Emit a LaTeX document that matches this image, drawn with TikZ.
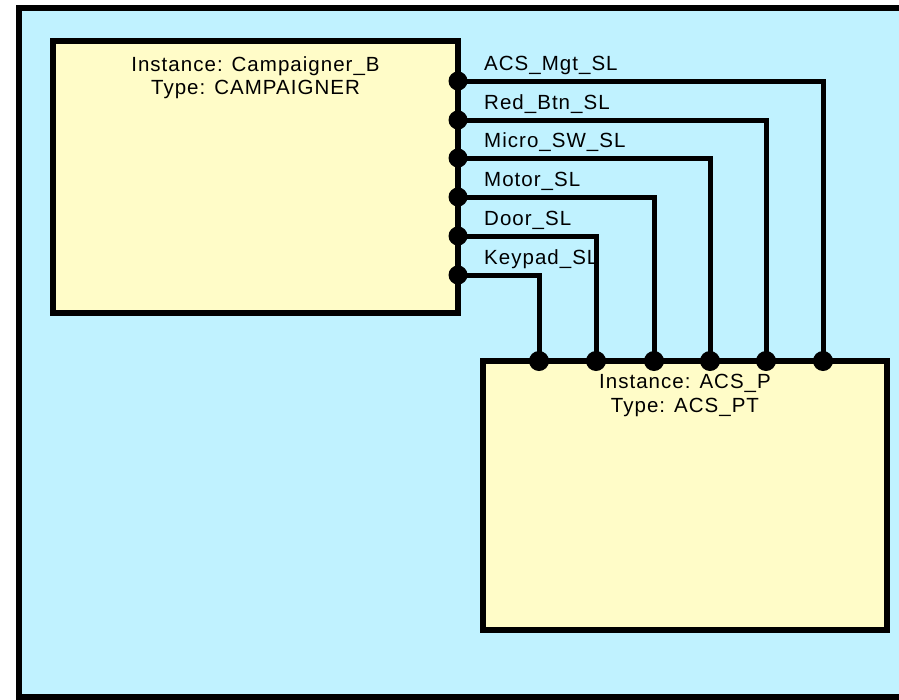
\documentclass[tikz,border=0pt]{standalone}
\usepackage{fontspec}
\setmainfont{Liberation Sans}[LetterSpace=5]
\definecolor{bgcyan}{RGB}{192,242,255}
\definecolor{boxyellow}{RGB}{255,252,200}
\begin{document}
\begin{tikzpicture}[x=1pt,y=-1pt,
  frame/.style={draw=black,line width=6pt,fill=bgcyan},
  block/.style={draw=black,line width=6pt,fill=boxyellow,rectangle,inner sep=0pt},
  txt/.style={font=\fontsize{20.5}{24}\selectfont,anchor=base,inner sep=0pt},
  lbl/.style={font=\fontsize{20.5}{24}\selectfont,anchor=base west,inner sep=0pt},
  wire/.style={draw=black,line width=5pt},
  dot/.style={fill=black}]
\useasboundingbox (0,0) rectangle (899,699);
\fill[white] (0,0) rectangle (899,699);
\draw[frame] (19,8) rectangle (910,697);
\node[block,minimum width=405pt,minimum height=272pt] (camp) at (255.5,177) {};
\node[block,minimum width=404pt,minimum height=269pt] (acs) at (685,495.5) {};
\node[txt] (c1) at (255.5,71) {Instance: Campaigner\_B};
\node[txt] (c2) at (255.5,94) {Type: CAMPAIGNER};
\node[txt] (a1) at (685,388) {Instance: ACS\_P};
\node[txt] (a2) at (685,412) {Type: ACS\_PT};
% ports
\foreach \n/\y/\x/\t in {1/81/823/ACS\_Mgt\_SL,2/120/766/Red\_Btn\_SL,3/158/710/Micro\_SW\_SL,4/197/654/Motor\_SL,5/236/596/Door\_SL,6/275/539/Keypad\_SL}{
  \coordinate (p\n) at (458,\y);
  \coordinate (q\n) at (\x,361);
  \node[lbl] (l\n) at (484,\y-11) {\t};
}
\foreach \n in {1,...,6}{
  \draw[wire] (p\n) -| (q\n);
  \fill[dot] (p\n) circle (9.5pt);
  \fill[dot] (q\n) circle (10pt);
}
\end{tikzpicture}
\end{document}
